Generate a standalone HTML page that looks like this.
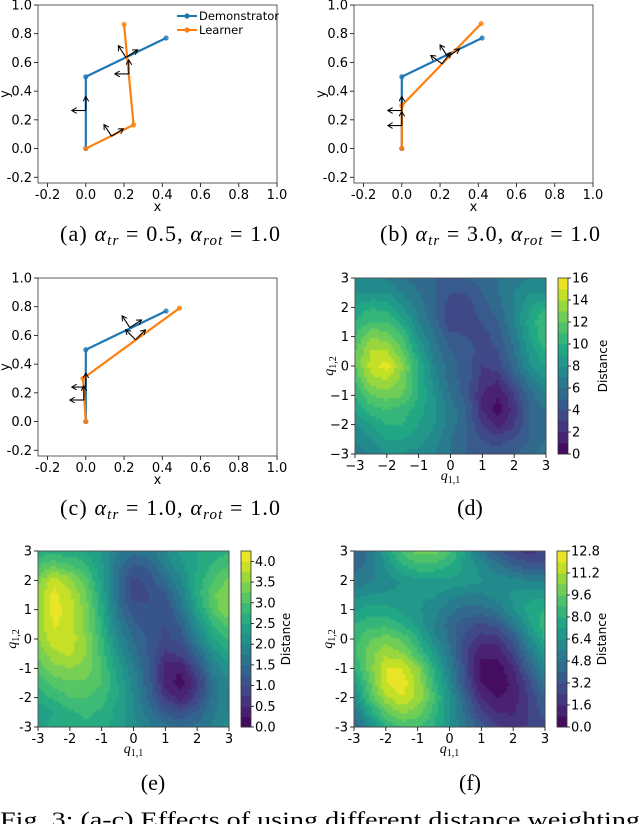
<!DOCTYPE html>
<html><head><meta charset="utf-8">
<style>
html,body{margin:0;padding:0;background:#fff;}
svg{display:block;}
text{font-family:"DejaVu Sans","Liberation Sans",sans-serif;}
text.cap{font-family:"Liberation Serif",serif;font-size:22px;}
text.serif{font-family:"Liberation Serif",serif;}
</style></head>
<body>
<svg id="fig" width="640" height="824" viewBox="0 0 640 824" xmlns="http://www.w3.org/2000/svg">
<defs>
<marker id="ah" markerWidth="6" markerHeight="6" refX="5" refY="3" orient="auto" markerUnits="userSpaceOnUse">
<path d="M0,0 L5,3 L0,6" fill="none" stroke="#000" stroke-width="1"/>
</marker>
<filter id="sm" x="0" y="0" width="1" height="1"><feGaussianBlur stdDeviation="0.6"/></filter>
</defs>
</svg>
<script>
// ---------- trajectory data ----------
const demoA=[[0,0],[0,0.5],[0.42,0.77]];
const learnA=[[0,0],[0.25,0.165],[0.2,0.865]];
const framesA=[[0,0.265,90],[0.135,0.085,33],[0.21,0.635,33],[0.225,0.52,90]];
const demoB=[[0,0],[0,0.5],[0.42,0.77]];
const learnB=[[0,0],[0,0.3],[0.415,0.87]];
const framesB=[[0,0.265,90],[0,0.16,90],[0.24,0.64,33],[0.21,0.59,53]];
const demoC=[[0,0],[0,0.5],[0.42,0.77]];
const learnC=[[0,0],[-0.015,0.3],[0.49,0.79]];
const framesC=[[0,0.24,90],[-0.01,0.15,90],[0.23,0.655,33],[0.26,0.57,45]];
const trajXTicks=[-0.2,0,0.2,0.4,0.6,0.8,1.0];
const trajYTicks=[-0.2,0,0.2,0.4,0.6,0.8,1.0];
// ---------- contour grids (x=-3..3 step .5, rows y=3..-3) ----------
const gridD=[
[7,7,7,6,5.5,5,5,5,5.5,6,6.5,7,7],
[8,8,8,7,6,5,4,4,5,6,7,8,8],
[9,10,9.5,8,6.5,5,3.5,3.5,4.5,5.5,7,9,10],
[10,11,11,9.5,7,5.5,3,3.5,4,5,7,9.5,11],
[11,13,12.5,11,8,6,4.5,4,3.5,4.5,6.5,9,11],
[12,14,14,12,9,6.5,5,4.5,3.5,4,6,8.5,10],
[12,14.5,15.5,13,10,7,5.5,4.5,3,3.5,5.5,8,9],
[11,13.5,14,12.5,10,7.5,5.5,4.5,2.5,2,4.5,6.5,8],
[10,12,12.5,12,10,8,6,4.5,2,1,3,5.5,7],
[9,10.5,11,10.5,9.5,8,6.5,5,2,0.5,2.5,5,6],
[8,9,10,10,9,8,6.5,5,3,1.5,3,5,6],
[7,8,9,9,8.5,7.5,6,5,4,3.5,4,5,6],
[6.5,7,8,8,7.5,7,6,5,4.5,4.5,5,5.5,6.5]];
const gridE=[
[2.6,2.6,2.6,2.5,2.2,1.8,1.6,1.7,2.0,2.3,2.5,2.6,2.7],
[3.0,3.2,3.0,2.8,2.3,1.6,1.2,1.3,1.8,2.2,2.5,2.8,3.0],
[3.4,3.9,3.6,3.1,2.4,1.5,0.9,1.1,1.5,2.0,2.6,3.0,3.3],
[3.6,4.1,3.8,3.3,2.5,1.5,0.9,1.0,1.2,1.8,2.6,3.2,3.5],
[3.6,4.1,3.9,3.4,2.6,1.6,1.1,1.0,1.0,1.6,2.4,3.1,3.5],
[3.6,4.05,3.9,3.4,2.7,1.8,1.3,1.1,1.0,1.3,2.1,2.8,3.1],
[3.5,3.9,3.9,3.5,2.8,2.0,1.5,1.2,0.9,1.1,1.8,2.5,2.8],
[3.3,3.7,3.8,3.5,2.9,2.2,1.6,1.2,0.7,0.8,1.4,2.1,2.5],
[3.1,3.4,3.5,3.4,3.0,2.4,1.8,1.2,0.4,0.3,1.0,1.8,2.2],
[2.8,3.1,3.2,3.2,3.0,2.5,1.9,1.3,0.4,0.1,0.7,1.6,2.0],
[2.6,2.8,3.0,3.0,2.9,2.5,2.0,1.4,0.7,0.4,0.9,1.6,2.0],
[2.3,2.5,2.7,2.8,2.7,2.4,2.0,1.6,1.2,1.0,1.3,1.7,2.0],
[2.4,2.6,2.7,2.7,2.6,2.4,2.1,1.8,1.6,1.5,1.6,1.8,2.1]];
const gridF=[
[4,5,7,9,10,10,9,7,5,3.5,2.5,2,2.5],
[4.5,5,6.5,8,8.5,8.5,8,7,6,5,4,3.5,3.5],
[5,5.5,6,6.5,7,7,7,7,6.5,6,6,5.5,5.5],
[6,6.5,6.5,6.5,6.5,6.5,6,5.5,5.5,6,6.5,7,7],
[7,7.5,7.5,7,6.5,6,5,4.5,4.5,5,6.5,7.5,8],
[8,8.5,8.5,8,7,5.5,4.5,3.5,3,3.5,5,7,8.5],
[8.5,9.5,10,9.5,8,6,4.5,3,2,2,3.5,6,8],
[8.5,10,11,10.5,9,7,5,2.5,1,1,2.5,5,7],
[8,10,12,12,10.5,8,5.5,3,0.5,0.3,1.5,4,6],
[7,9.5,12,12.5,11,8.5,6,3,0.8,0.2,1,3,5],
[6,9,11,12,11,9,6.5,4,1.5,0.8,1,2.5,4],
[5,7.5,9.5,10.5,10,8.5,6.5,4.5,2.5,1.5,1.5,2.5,3.5],
[4,6,8,9,9,8,6.5,5,3.5,2.5,2,2.5,3]];
const cbTicksD=[0,2,4,6,8,10,12,14,16];
const cbTicksE=[0.0,0.5,1.0,1.5,2.0,2.5,3.0,3.5,4.0];
const cbTicksF=[0.0,1.6,3.2,4.8,6.4,8.0,9.6,11.2,12.8];
const qTicks=[-3,-2,-1,0,1,2,3];

const NS="http://www.w3.org/2000/svg";
const svg=document.getElementById('fig');
function el(tag,attrs,parent){const e=document.createElementNS(NS,tag);for(const k in attrs)e.setAttribute(k,attrs[k]);(parent||svg).appendChild(e);return e;}
function txt(s,attrs,parent){const t=el('text',attrs,parent);t.textContent=s;return t;}

const VIR=['#440154','#482475','#414487','#355f8d','#2a788e','#21918c','#22a884','#44bf70','#7ad151','#bddf26','#fde725'];
function hex(c){return [parseInt(c.slice(1,3),16),parseInt(c.slice(3,5),16),parseInt(c.slice(5,7),16)];}
function viridis(t){t=Math.max(0,Math.min(1,t));const p=t*10,i=Math.min(9,Math.floor(p)),f=p-i;const a=hex(VIR[i]),b=hex(VIR[i+1]);return 'rgb('+a.map((v,k)=>Math.round(v+(b[k]-v)*f)).join(',')+')';}

// ---------- trajectory panel ----------
function trajPanel(name,L,T,demo,learn,frames,legend){
  const W=239,H=178,x0=-0.25,x1=1.0,y0=-0.24,y1=1.0;
  const sx=v=>L+(v-x0)/(x1-x0)*W, sy=v=>T+(y1-v)/(y1-y0)*H;
  const g=el('g',{});
  
  
  trajXTicks.forEach(v=>{
    const X=sx(v);
    const tk=el('line',{x1:X,x2:X,y1:T+H,y2:T+H+4,stroke:'#000','stroke-width':0.8},g);
    
    const t=txt(v.toFixed(1),{x:X,y:T+H+16,'font-size':13,'text-anchor':'middle'},g);
    
  });
  trajYTicks.forEach(v=>{
    const Y=sy(v);
    const tk=el('line',{x1:L-4,x2:L,y1:Y,y2:Y,stroke:'#000','stroke-width':0.8},g);
    
    const t=txt(v.toFixed(1),{x:L-6,y:Y+4.5,'font-size':13,'text-anchor':'end'},g);
    
  });
  const xl=txt('x',{x:L+W/2,y:T+H+28,'font-size':13,'text-anchor':'middle'},g);
  
  const yl=txt('y',{x:0,y:0,'font-size':13,'text-anchor':'middle',transform:'translate('+(L-29)+','+(T+H/2)+') rotate(-90)'},g);
  
  [[demo,'#1f77b4','demonstrator-line'],[learn,'#ff7f0e','learner-line']].forEach(([pts,c,n])=>{
    const pl=el('polyline',{points:pts.map(p=>sx(p[0])+','+sy(p[1])).join(' '),fill:'none',stroke:c,'stroke-width':2.2,'stroke-linejoin':'round'},g);
    
    pts.forEach(p=>{
      const m=el('circle',{cx:sx(p[0]),cy:sy(p[1]),r:2.6,fill:c,'fill-opacity':0.8},g);
      
    });
  });
  frames.forEach(f=>{
    const X=sx(f[0]),Y=sy(f[1]);
    [f[2],f[2]+90].forEach(a=>{
      const r=a*Math.PI/180;
      const ar=el('line',{x1:X,y1:Y,x2:X+14*Math.cos(r),y2:Y-14*Math.sin(r),stroke:'#000','stroke-width':1.1,'marker-end':'url(#ah)'},g);
      
    });
  });
  const fr=el('rect',{x:L,y:T,width:W,height:H,fill:'none',stroke:'#333','stroke-width':0.8},g);
  
  if(legend){
    const lg=el('g',{},g);
    
    [['Demonstrator','#1f77b4',16],['Learner','#ff7f0e',30]].forEach(([s,c,yy])=>{
      const e=el('g',{},lg);
      
      el('line',{x1:L+139,x2:L+159,y1:T+yy-5,y2:T+yy-5,stroke:c,'stroke-width':2},e);
      el('circle',{cx:L+149,cy:T+yy-5,r:2.6,fill:c},e);
      txt(s,{x:L+161,y:T+yy-1,'font-size':11.5},e);
    });
  }
}

// ---------- contour panel ----------
function contourPanel(name,L,T,grid,vmax,nLev,cbTicks,fmt,minus){
  const W=191,H=176;
  const sx=v=>L+(v+3)/6*W, sy=v=>T+(3-v)/6*H;
  const g=el('g',{});
  
  
  const cells=el('g',{filter:'url(#sm)'},g);
  
  const step=vmax/nLev, cs=3;
  const nr=grid.length,nc=grid[0].length;
  function val(qx,qy){
    const fx=(qx+3)/6*(nc-1), fy=(3-qy)/6*(nr-1);
    const i=Math.min(nc-2,Math.max(0,Math.floor(fx))), j=Math.min(nr-2,Math.max(0,Math.floor(fy)));
    const u=fx-i,w=fy-j;
    return grid[j][i]*(1-u)*(1-w)+grid[j][i+1]*u*(1-w)+grid[j+1][i]*(1-u)*w+grid[j+1][i+1]*u*w;
  }
  for(let py=0;py<H;py+=cs){
    for(let px=0;px<W;px+=cs){
      const qx=-3+(px+cs/2)/W*6, qy=3-(py+cs/2)/H*6;
      const v=val(qx,qy);
      const b=Math.max(0,Math.min(nLev-1,Math.floor(v/step)));
      const r=el('rect',{x:L+px,y:T+py,width:Math.min(cs,W-px)+0.3,height:Math.min(cs,H-py)+0.3,fill:viridis((b+0.5)/nLev)},cells);
      
      
    }
  }
  const fr=el('rect',{x:L,y:T,width:W,height:H,fill:'none',stroke:'#333','stroke-width':0.8},g);
  
  const lab=v=>(v<0?(minus?'\u2212':'-')+Math.abs(v):''+v);
  qTicks.forEach(v=>{
    const X=sx(v),Y=sy(v);
    el('line',{x1:X,x2:X,y1:T+H,y2:T+H+4,stroke:'#000','stroke-width':0.8},g);
    const t=txt(lab(v),{x:X,y:T+H+16,'font-size':13,'text-anchor':'middle'},g);
    
    el('line',{x1:L-4,x2:L,y1:Y,y2:Y,stroke:'#000','stroke-width':0.8},g);
    const t2=txt(lab(v),{x:L-6,y:Y+4.5,'font-size':13,'text-anchor':'end'},g);
    
  });
  const xl=el('text',{x:L+W/2,y:T+H+26,'font-size':14,'text-anchor':'middle','class':'serif'},g);
  
  xl.innerHTML='<tspan font-style="italic">q</tspan><tspan font-size="10" dy="3">1,1</tspan>';
  const yl=el('text',{'font-size':14,'text-anchor':'middle','class':'serif',transform:'translate('+(L-22)+','+(T+H/2)+') rotate(-90)'},g);
  
  yl.innerHTML='<tspan font-style="italic">q</tspan><tspan font-size="10" dy="3">1,2</tspan>';
  // colorbar
  const CL=L+W+12,CW=10;
  const cb=el('g',{},g);
  
  for(let b=0;b<nLev;b++){
    const y=T+H-(b+1)/nLev*H;
    const r=el('rect',{x:CL,y:y,width:CW,height:H/nLev+0.4,fill:viridis((b+0.5)/nLev)},cb);
    
  }
  el('rect',{x:CL,y:T,width:CW,height:H,fill:'none',stroke:'#333','stroke-width':0.8},cb);
  cbTicks.forEach(v=>{
    const Y=T+H-v/vmax*H;
    el('line',{x1:CL+CW,x2:CL+CW+3,y1:Y,y2:Y,stroke:'#000','stroke-width':0.8},cb);
    const t=txt(fmt(v),{x:CL+CW+4,y:Y+4.5,'font-size':13},cb);
    
  });
  const ct=txt('Distance',{'font-size':12,'text-anchor':'middle',transform:'translate('+(CL+CW+39)+','+(T+H/2)+') rotate(-90)'},cb);
  
}

function caption(name,cx,y,html,len){
  const a={x:cx,y:y,'text-anchor':'middle',class:'cap'};
  if(len){a.x=cx-len/2;a['text-anchor']='start';a.textLength=len;a.lengthAdjust='spacing';}
  const t=el('text',a);
  
  
  t.innerHTML=html;
}
function alphaCap(l,tr,rot){
  return '('+l+') <tspan font-style="italic">α</tspan><tspan font-style="italic" font-size="15" dy="4">tr</tspan><tspan dy="-4"> = '+tr+',  </tspan><tspan font-style="italic">α</tspan><tspan font-style="italic" font-size="15" dy="4">rot</tspan><tspan dy="-4"> = '+rot+'</tspan>';
}

trajPanel('panel-a',38,5,demoA,learnA,framesA,true);
trajPanel('panel-b',354,5,demoB,learnB,framesB,false);
trajPanel('panel-c',38,278,demoC,learnC,framesC,false);
contourPanel('panel-d',355,278,gridD,16,16,cbTicksD,v=>''+v,true);
contourPanel('panel-e',38,551,gridE,4.25,17,cbTicksE,v=>v.toFixed(1),false);
contourPanel('panel-f',354,551,gridF,12.8,16,cbTicksF,v=>v.toFixed(1),false);

caption('caption-a',170,241,alphaCap('a','0.5','1.0'),220);
caption('caption-b',490,241,alphaCap('b','3.0','1.0'),220);
caption('caption-c',170,515,alphaCap('c','1.0','1.0'),220);
caption('caption-d',470,515,'(d)');
caption('caption-e',153,790,'(e)');
caption('caption-f',470,790,'(f)');
const fc=el('text',{x:0,y:827,'font-size':22,'class':'serif',textLength:640,lengthAdjust:'spacingAndGlyphs'});


fc.textContent='Fig. 3: (a-c) Effects of using different distance weighting';
</script>
</body></html>
